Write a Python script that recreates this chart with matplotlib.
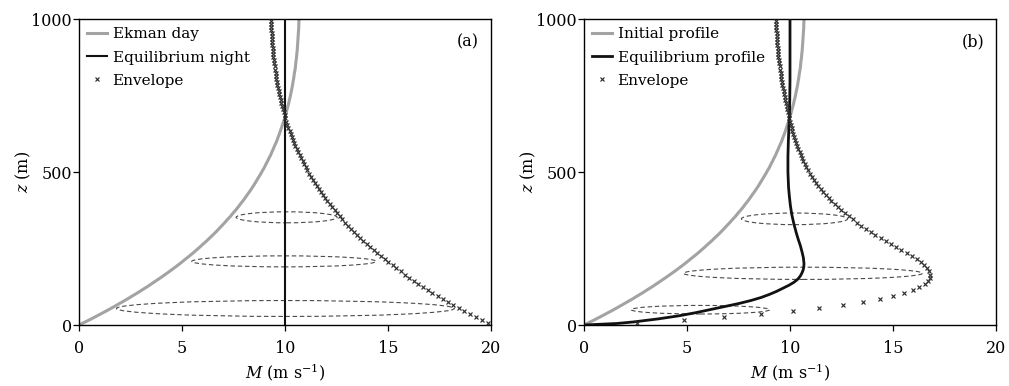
import matplotlib
matplotlib.use('Agg')
import matplotlib.pyplot as plt
from matplotlib.patches import Ellipse

# ── data ──────────────────────────────────────────────────────────────────────

# heights of the envelope markers (m)
z_mid = [5, 15, 25, 35, 45, 55, 65, 75, 85, 95,
         105, 115, 125, 135, 145, 155, 165, 175, 185, 195,
         205, 215, 225, 235, 245, 255, 265, 275, 285, 295,
         305, 315, 325, 335, 345, 355, 365, 375, 385, 395,
         405, 415, 425, 435, 445, 455, 465, 475, 485, 495,
         505, 515, 525, 535, 545, 555, 565, 575, 585, 595,
         605, 615, 625, 635, 645, 655, 665, 675, 685, 695,
         705, 715, 725, 735, 745, 755, 765, 775, 785, 795,
         805, 815, 825, 835, 845, 855, 865, 875, 885, 895,
         905, 915, 925, 935, 945, 955, 965, 975, 985, 995]

# daytime Ekman / initial profile (grey line), at z = 0, z_mid..., 1000
z_day = [0] + z_mid + [1000]
m_day = [0.0,
         0.15, 0.45, 0.74, 1.02, 1.30, 1.57, 1.83, 2.09, 2.35, 2.59,
         2.84, 3.07, 3.31, 3.53, 3.75, 3.97, 4.18, 4.39, 4.59, 4.79,
         4.98, 5.16, 5.35, 5.53, 5.70, 5.87, 6.03, 6.20, 6.35, 6.51,
         6.66, 6.80, 6.94, 7.08, 7.21, 7.35, 7.47, 7.60, 7.72, 7.83,
         7.95, 8.06, 8.16, 8.27, 8.37, 8.47, 8.56, 8.65, 8.74, 8.83,
         8.91, 9.00, 9.07, 9.15, 9.22, 9.30, 9.36, 9.43, 9.49, 9.56,
         9.62, 9.67, 9.73, 9.78, 9.83, 9.88, 9.93, 9.98, 10.02, 10.06,
         10.10, 10.14, 10.18, 10.21, 10.25, 10.28, 10.31, 10.34, 10.37, 10.39,
         10.42, 10.44, 10.46, 10.49, 10.51, 10.52, 10.54, 10.56, 10.57, 10.59,
         10.60, 10.61, 10.62, 10.63, 10.64, 10.65, 10.66, 10.67, 10.67, 10.68,
         10.68]

# (a) equilibrium night: constant geostrophic speed
z_night = [0, 1000]
m_night = [10.0, 10.0]

# (b) equilibrium profile
z_eq = [0, 5, 10, 15, 20, 25, 30, 40, 50, 60, 70, 80, 90, 100, 110, 120,
        130, 140, 150, 160, 170, 180, 190, 200, 220, 240, 260, 280, 300,
        330, 360, 390, 420, 450, 500, 550, 600, 650, 700, 800, 1000]
m_eq = [0.0, 1.6, 2.4, 3.0, 3.6, 4.1, 4.6, 5.4, 6.1, 6.8, 7.5, 8.1, 8.6, 9.0,
        9.35, 9.65, 9.95, 10.2, 10.38, 10.5, 10.58, 10.64, 10.67, 10.68,
        10.65, 10.58, 10.5, 10.4, 10.31, 10.19, 10.09, 10.02, 9.97, 9.93,
        9.9, 9.9, 9.92, 9.95, 9.98, 10.0, 10.0]

# envelopes (x markers) at z_mid
env_a = [19.85, 19.55, 19.26, 18.98, 18.70, 18.43, 18.17, 17.91, 17.65, 17.41,
         17.16, 16.93, 16.70, 16.47, 16.25, 16.03, 15.82, 15.61, 15.41, 15.22,
         15.02, 14.84, 14.65, 14.48, 14.30, 14.13, 13.97, 13.80, 13.65, 13.49,
         13.35, 13.20, 13.06, 12.92, 12.79, 12.66, 12.53, 12.41, 12.28, 12.17,
         12.05, 11.94, 11.84, 11.73, 11.63, 11.53, 11.44, 11.35, 11.26, 11.17,
         11.09, 11.01, 10.93, 10.85, 10.78, 10.71, 10.64, 10.57, 10.51, 10.44,
         10.38, 10.33, 10.27, 10.22, 10.17, 10.12, 10.07, 10.02, 9.98, 9.94,
         9.90, 9.86, 9.82, 9.79, 9.75, 9.72, 9.69, 9.66, 9.63, 9.61,
         9.58, 9.56, 9.54, 9.52, 9.50, 9.48, 9.46, 9.44, 9.43, 9.41,
         9.40, 9.39, 9.38, 9.37, 9.36, 9.35, 9.34, 9.33, 9.33, 9.32]

env_b = [2.56, 4.83, 6.82, 8.59, 10.13, 11.43, 12.58, 13.55, 14.35, 15.02,
         15.55, 15.95, 16.28, 16.55, 16.72, 16.80, 16.80, 16.74, 16.66, 16.52,
         16.35, 16.16, 15.92, 15.67, 15.41, 15.15, 14.90, 14.64, 14.40, 14.15,
         13.92, 13.69, 13.47, 13.25, 13.05, 12.86, 12.67, 12.50, 12.32, 12.17,
         12.01, 11.87, 11.74, 11.61, 11.49, 11.37, 11.27, 11.17, 11.07, 10.97,
         10.89, 10.80, 10.73, 10.65, 10.59, 10.53, 10.47, 10.41, 10.36, 10.30,
         10.25, 10.21, 10.16, 10.12, 10.08, 10.04, 10.00, 9.96, 9.93, 9.90,
         9.87, 9.84, 9.80, 9.78, 9.75, 9.72, 9.69, 9.66, 9.63, 9.61,
         9.58, 9.56, 9.54, 9.52, 9.50, 9.48, 9.46, 9.44, 9.43, 9.41,
         9.40, 9.39, 9.38, 9.37, 9.36, 9.35, 9.34, 9.33, 9.33, 9.32]

# dashed hodograph ellipses: centre M, centre z, width (m/s), height (m)
ell_a = [(10.08, 352, 4.9, 36), (9.95, 208, 8.95, 36), (10.02, 54, 16.4, 52)]
ell_b = [(10.22, 347, 5.15, 38), (10.63, 169, 11.6, 40), (5.65, 50, 6.72, 28)]

# ── styling ──────────────────────────────────────────────────────────────────
plt.rcParams['font.family'] = ['DejaVu Serif']
plt.rcParams['mathtext.fontset'] = 'dejavuserif'
plt.rcParams['font.size'] = 11

GREY = '#a3a3a3'
FS = 11.5


def draw_panel(ax, grey_label, black_label, z_black, m_black, black_lw,
               env, ellipses, tag):
    for cx, cz, w, h in ellipses:
        ax.add_patch(Ellipse((cx, cz), w, h, fill=False, edgecolor='#4a4a4a',
                             lw=0.8, ls=(0, (4, 2.5)), zorder=1))
    ax.plot(m_day, z_day, color=GREY, lw=2.2, label=grey_label, zorder=2)
    ax.plot(m_black, z_black, color='#111111', lw=black_lw,
            label=black_label, zorder=3)
    ax.plot(env, z_mid, ls='none', marker='x', ms=3.2, mew=0.85,
            color='#2e2e2e', label='Envelope', zorder=4)

    ax.set_xlim(0, 20)
    ax.set_ylim(0, 1000)
    ax.set_xticks([0, 5, 10, 15, 20])
    ax.set_yticks([0, 500, 1000])
    ax.tick_params(direction='out', length=4, width=0.9, labelsize=FS)
    ax.tick_params(axis='y', pad=1)
    ax.tick_params(axis='x', pad=7)
    for s in ax.spines.values():
        s.set_linewidth(1.0)
    ax.set_xlabel(r'$M$ (m s$^{-1}$)', fontsize=FS, labelpad=3)
    ax.set_ylabel(r'$z$ (m)', fontsize=FS, labelpad=-1)
    ax.text(0.944, 0.925, tag, transform=ax.transAxes, ha='center',
            va='center', fontsize=FS)
    ax.legend(loc='upper left', bbox_to_anchor=(0.0, 1.0), frameon=False,
              fontsize=11, handlelength=1.25, handletextpad=0.4,
              labelspacing=0.6, borderaxespad=0.25, borderpad=0.3,
              markerscale=1.0)


fig = plt.figure(figsize=(10.09, 3.86), dpi=100)
ax_a = fig.add_axes([0.0783, 0.158, 0.4083, 0.7927])
ax_b = fig.add_axes([0.5788, 0.158, 0.4083, 0.7927])

draw_panel(ax_a, 'Ekman day', 'Equilibrium night', z_night, m_night, 1.5,
           env_a, ell_a, '(a)')
draw_panel(ax_b, 'Initial profile', 'Equilibrium profile', z_eq, m_eq, 2.0,
           env_b, ell_b, '(b)')

fig.savefig('out.png', dpi=100)
